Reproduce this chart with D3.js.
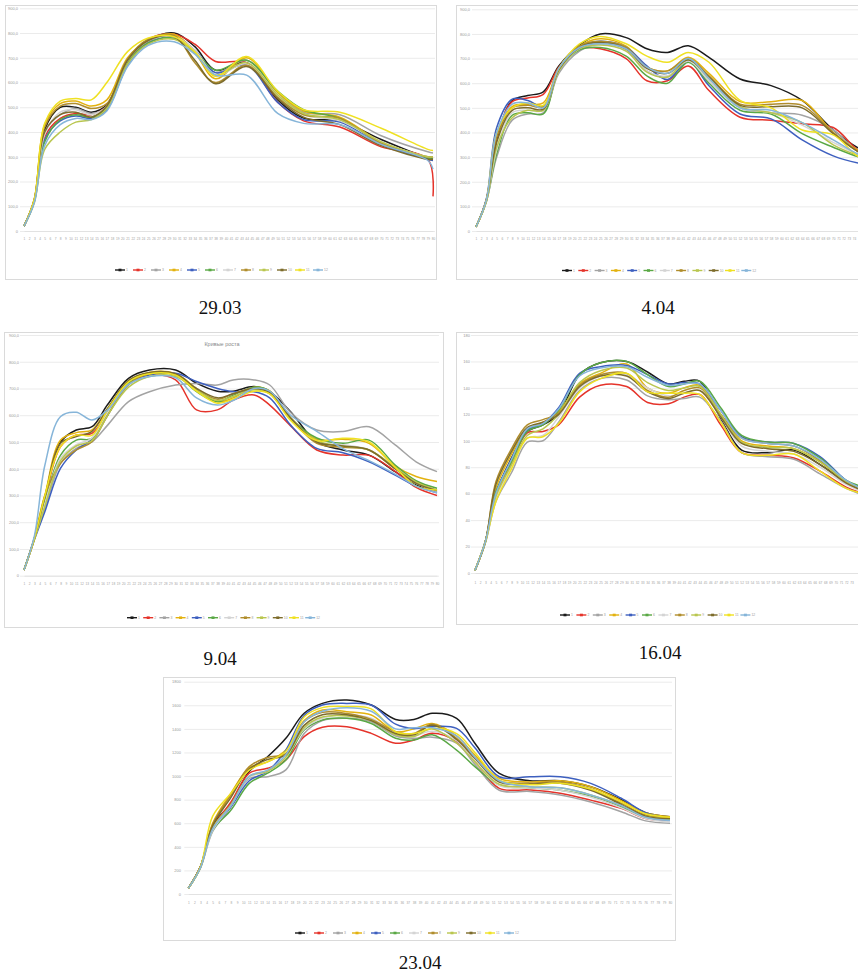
<!DOCTYPE html>
<html lang="ru">
<head>
<meta charset="UTF-8">
<title>Кривые роста</title>
<script src="https://d3js.org/d3.v7.min.js"></script>
<style>
  body { margin: 0; background: #fff; }
  svg { display: block; }
</style>
</head>
<body>
<script>
    // series colours and legend labels (same for every date)
    const colors = ["#1b1b1b", "#e5332a", "#a3a3a3", "#e3b20f", "#3d5fbf", "#5aa845",
        "#d4d4d4", "#b08d2c", "#b9c64f", "#7d6c2b", "#efe122", "#86b5d9"];
    const seriesNames = ["1", "2", "3", "4", "5", "6", "7", "8", "9", "10", "11", "12"];
    const categories = d3.range(1, 81);

    // 29.03
    const knots1 = [1, 3, 5, 8, 11, 14, 17, 21, 25, 30, 34, 38, 44, 50, 55, 62, 70, 79, 80];
    const vals1 = [
        [20, 125, 410, 500, 500, 480, 510, 690, 770, 800, 745, 650, 680, 530, 456, 445, 370, 295, 290],
        [20, 125, 380, 455, 475, 470, 505, 680, 775, 795, 755, 685, 680, 520, 445, 420, 340, 290, 140],
        [20, 125, 400, 470, 495, 475, 500, 680, 765, 790, 730, 640, 690, 560, 480, 470, 385, 320, 315],
        [20, 130, 430, 515, 525, 505, 530, 700, 770, 795, 720, 615, 700, 560, 485, 460, 360, 300, 300],
        [20, 120, 370, 445, 465, 455, 490, 670, 760, 780, 730, 640, 670, 520, 450, 440, 350, 290, 285],
        [20, 120, 360, 450, 470, 460, 500, 680, 760, 780, 725, 650, 690, 565, 490, 455, 355, 295, 290],
        [20, 125, 390, 480, 490, 470, 505, 690, 770, 785, 730, 630, 675, 545, 470, 445, 360, 300, 300],
        [20, 130, 420, 505, 515, 495, 515, 695, 775, 790, 680, 600, 670, 540, 470, 455, 355, 300, 300],
        [20, 115, 330, 400, 440, 450, 495, 675, 755, 775, 720, 630, 680, 550, 475, 450, 360, 300, 300],
        [20, 125, 400, 470, 480, 460, 505, 690, 770, 785, 690, 595, 665, 535, 460, 430, 345, 290, 290],
        [20, 130, 435, 525, 535, 530, 600, 725, 780, 785, 725, 625, 705, 565, 490, 480, 415, 330, 325],
        [20, 115, 345, 430, 455, 450, 485, 665, 750, 765, 715, 630, 630, 475, 435, 430, 350, 285, 250]
    ];

    // 4.04
    const knots2 = [1, 3, 5, 8, 11, 14, 17, 21, 25, 30, 34, 38, 42, 46, 52, 58, 64, 70, 75, 80];
    const vals2 = [
        [17, 125, 370, 530, 550, 565, 670, 755, 800, 785, 740, 725, 752, 705, 617, 590, 530, 410, 335, 290],
        [17, 125, 380, 525, 540, 555, 665, 740, 740, 700, 610, 610, 670, 570, 462, 450, 435, 420, 325, 285],
        [17, 120, 300, 450, 475, 480, 640, 730, 760, 735, 650, 625, 690, 610, 500, 480, 470, 410, 320, 280],
        [17, 125, 390, 505, 515, 520, 660, 750, 780, 750, 665, 650, 705, 640, 525, 525, 530, 400, 325, 285],
        [17, 130, 420, 535, 530, 505, 660, 745, 770, 745, 670, 615, 690, 590, 475, 455, 370, 305, 275, 260],
        [17, 120, 315, 470, 480, 475, 650, 735, 745, 710, 630, 600, 685, 600, 490, 475, 395, 340, 300, 275],
        [17, 120, 330, 480, 490, 490, 650, 740, 760, 730, 650, 630, 690, 610, 500, 480, 430, 360, 310, 280],
        [17, 125, 380, 500, 510, 505, 660, 750, 770, 745, 665, 650, 700, 630, 515, 515, 510, 400, 320, 280],
        [17, 120, 340, 460, 490, 490, 650, 740, 755, 730, 645, 625, 695, 620, 505, 480, 440, 350, 305, 275],
        [17, 125, 360, 490, 500, 495, 655, 745, 765, 740, 660, 640, 695, 625, 510, 505, 500, 395, 320, 280],
        [17, 125, 400, 500, 520, 510, 660, 760, 790, 760, 710, 685, 725, 685, 530, 500, 410, 390, 300, 270],
        [17, 125, 400, 515, 520, 500, 660, 745, 760, 740, 665, 640, 700, 620, 500, 490, 440, 370, 310, 280]
    ];

    // 9.04
    const knots3 = [1, 3, 5, 8, 11, 14, 17, 21, 25, 30, 34, 38, 41, 45, 48, 52, 57, 62, 67, 72, 76, 80];
    const vals3 = [
        [21, 140, 290, 500, 545, 557, 640, 738, 769, 769, 720, 690, 690, 707, 688, 613, 500, 470, 451, 389, 339, 314],
        [21, 140, 290, 483, 526, 532, 610, 720, 750, 732, 620, 620, 657, 676, 638, 560, 470, 451, 450, 390, 330, 300],
        [21, 140, 250, 420, 476, 500, 563, 651, 688, 713, 719, 713, 732, 732, 713, 610, 545, 539, 557, 489, 426, 389],
        [21, 140, 300, 507, 535, 545, 625, 725, 760, 755, 700, 650, 665, 705, 690, 590, 510, 510, 495, 410, 371, 352],
        [21, 135, 240, 402, 470, 510, 600, 715, 750, 757, 726, 700, 688, 688, 665, 563, 476, 460, 426, 376, 335, 310],
        [21, 140, 280, 451, 507, 513, 610, 720, 755, 750, 688, 651, 675, 705, 690, 590, 515, 495, 507, 414, 355, 327],
        [21, 140, 270, 440, 490, 515, 610, 715, 745, 745, 700, 660, 680, 700, 680, 590, 500, 490, 470, 400, 345, 315],
        [21, 140, 300, 420, 470, 501, 600, 715, 755, 750, 695, 660, 680, 700, 690, 590, 495, 480, 470, 400, 350, 320],
        [21, 135, 260, 430, 485, 505, 600, 705, 745, 745, 695, 655, 670, 695, 680, 585, 505, 485, 470, 405, 350, 320],
        [21, 140, 295, 495, 520, 540, 625, 730, 760, 755, 700, 665, 680, 700, 685, 590, 500, 485, 470, 400, 345, 318],
        [21, 140, 300, 483, 526, 525, 620, 725, 755, 750, 690, 645, 660, 690, 680, 580, 505, 514, 500, 405, 335, 320],
        [21, 150, 414, 595, 611, 582, 620, 715, 745, 740, 665, 638, 655, 700, 690, 600, 540, 475, 430, 380, 335, 310]
    ];

    // 16.04
    const knots4 = [1, 3, 5, 8, 11, 14, 17, 21, 25, 30, 34, 38, 41, 44, 48, 52, 57, 62, 67, 72, 76, 80];
    const vals4 = [
        [2, 24, 60, 87, 107, 112, 120, 150, 159, 160, 152, 143, 145, 145, 117, 93, 91, 93, 82, 69, 61, 55],
        [2, 24, 58, 83, 106, 107, 112, 133, 142, 141, 129, 128, 133, 135, 112, 91, 89, 87, 77, 65, 59, 54],
        [2, 23, 54, 76, 99, 100, 114, 138, 147, 146, 134, 131, 132, 133, 115, 91, 88, 86, 75, 64, 58, 53],
        [2, 24, 64, 90, 109, 114, 122, 143, 151, 158, 140, 136, 140, 142, 120, 100, 96, 94, 84, 69, 61, 55],
        [2, 24, 61, 86, 108, 113, 125, 151, 156, 157, 150, 143, 144, 143, 123, 103, 99, 98, 88, 70, 62, 56],
        [2, 24, 61, 84, 107, 112, 123, 150, 159, 160, 150, 141, 143, 145, 125, 104, 99, 98, 87, 70, 64, 58],
        [2, 23, 57, 80, 102, 104, 118, 140, 149, 150, 140, 134, 136, 138, 118, 96, 92, 90, 80, 67, 60, 54],
        [2, 24, 69, 94, 112, 116, 121, 142, 150, 151, 138, 133, 138, 140, 120, 102, 98, 96, 85, 69, 62, 56],
        [2, 23, 58, 82, 104, 109, 120, 144, 153, 155, 144, 138, 140, 141, 120, 99, 95, 94, 84, 69, 61, 55],
        [2, 24, 67, 92, 110, 114, 120, 141, 149, 149, 137, 132, 136, 138, 118, 98, 94, 92, 82, 68, 61, 55],
        [2, 24, 54, 79, 102, 103, 113, 137, 147, 151, 137, 136, 136, 135, 114, 91, 89, 90, 77, 64, 59, 53],
        [2, 24, 60, 86, 109, 113, 124, 149, 155, 156, 148, 142, 143, 143, 123, 102, 98, 96, 86, 70, 62, 56]
    ];

    // 23.04
    const knots5 = [1, 3, 5, 8, 11, 14, 17, 20, 23, 27, 31, 35, 38, 41, 45, 48, 52, 57, 62, 67, 72, 76, 80];
    const vals5 = [
        [48, 232, 580, 768, 1040, 1164, 1320, 1532, 1616, 1644, 1602, 1480, 1480, 1532, 1490, 1278, 1022, 960, 960, 910, 800, 690, 656],
        [48, 232, 560, 780, 1024, 1066, 1136, 1334, 1414, 1418, 1362, 1278, 1306, 1362, 1292, 1122, 896, 882, 854, 796, 726, 640, 628],
        [48, 224, 530, 740, 980, 994, 1052, 1360, 1470, 1490, 1460, 1340, 1320, 1330, 1280, 1100, 880, 870, 840, 780, 698, 620, 600],
        [48, 232, 600, 854, 1070, 1120, 1220, 1470, 1560, 1546, 1518, 1376, 1400, 1446, 1340, 1178, 980, 950, 960, 910, 792, 690, 656],
        [48, 232, 550, 740, 960, 1040, 1220, 1514, 1602, 1616, 1602, 1440, 1404, 1420, 1404, 1240, 994, 994, 994, 938, 812, 690, 640],
        [48, 224, 540, 712, 938, 1024, 1136, 1390, 1476, 1490, 1446, 1320, 1306, 1350, 1220, 1080, 924, 900, 880, 830, 740, 650, 630],
        [48, 224, 540, 750, 990, 1040, 1160, 1400, 1490, 1520, 1490, 1360, 1340, 1380, 1300, 1120, 920, 900, 880, 820, 730, 640, 610],
        [48, 232, 590, 840, 1080, 1158, 1190, 1460, 1540, 1530, 1480, 1376, 1360, 1440, 1320, 1160, 960, 940, 950, 890, 770, 670, 650],
        [48, 224, 560, 760, 1000, 1040, 1160, 1410, 1500, 1510, 1470, 1350, 1336, 1400, 1280, 1120, 930, 910, 900, 840, 750, 660, 636],
        [48, 232, 580, 820, 1060, 1140, 1180, 1430, 1520, 1520, 1470, 1360, 1350, 1430, 1310, 1150, 950, 930, 940, 880, 760, 660, 640],
        [48, 232, 660, 854, 1050, 1120, 1210, 1500, 1580, 1590, 1570, 1376, 1360, 1404, 1360, 1200, 966, 926, 940, 890, 780, 680, 650],
        [48, 224, 550, 750, 1000, 1050, 1180, 1460, 1550, 1580, 1550, 1400, 1410, 1410, 1340, 1160, 960, 910, 900, 840, 750, 650, 624]
    ];

    const captions = ["29.03", "4.04", "9.04", "16.04", "23.04"];
    const yMax = [900, 900, 900, 180, 1800];
    const yStep = [100, 100, 100, 20, 200];

    // where each chart sits on the page
    const panels = [
        { knots: knots1, vals: vals1, frame: [5, 5, 431, 274], x: [24, 433], y: [231, 8.3], labX: 18, catY: 238, leg: [115, 270, 18], cap: [220, 314] },
        { knots: knots2, vals: vals2, frame: [456, 5, 431, 274], x: [476, 885], y: [231, 9.3], labX: 470, catY: 238, leg: [562, 270.5, 16.3], cap: [658, 314] },
        { knots: knots3, vals: vals3, frame: [4, 332, 439, 295], x: [24, 437], y: [575.7, 335], labX: 19, catY: 583, leg: [127, 617.7, 16.2], cap: [220, 665], title: "Кривые роста" },
        { knots: knots4, vals: vals4, frame: [456, 332, 431, 292], x: [475, 888], y: [573, 335], labX: 470, catY: 582, leg: [560, 615, 16.4], cap: [660, 659] },
        { knots: knots5, vals: vals5, frame: [163, 677, 512, 263], x: [188.3, 670], y: [894, 681.7], labX: 181, catY: 902, leg: [295, 933, 19], cap: [420, 969] }
    ];

    const W = 858, H = 976;
    const svg = d3.select("body").append("svg")
        .attr("width", W)
        .attr("height", H);

    svg.append("rect").attr("width", W).attr("height", H).attr("fill", "#fff");

    panels.forEach((p, pi) => {
        const g = svg.append("g");

        g.append("rect")
            .attr("x", p.frame[0] + 0.5).attr("y", p.frame[1] + 0.5)
            .attr("width", p.frame[2]).attr("height", p.frame[3])
            .attr("fill", "#fff")
            .attr("stroke", "#dadada");

        const x = d3.scaleLinear().domain([1, 80]).range(p.x);
        const y = d3.scaleLinear().domain([0, yMax[pi]]).range(p.y);
        const ticks = d3.range(0, yMax[pi] + 1, yStep[pi]);

        // gridlines
        g.append("g")
            .attr("transform", `translate(${p.x[0] - 4},0)`)
            .call(d3.axisLeft(y).tickValues(ticks).tickSize(-(p.x[1] - p.x[0] + 6)).tickFormat(""))
            .call(a => a.select(".domain").remove())
            .call(a => a.selectAll("line").attr("stroke", "#ebebeb"));

        // y labels
        const fmt = d => d === 0 ? "0" : (pi < 3 ? d.toFixed(1).replace(".", ",") : String(d));
        g.append("g")
            .attr("transform", `translate(${p.labX},0)`)
            .call(d3.axisLeft(y).tickValues(ticks).tickSize(0).tickPadding(0).tickFormat(fmt))
            .call(a => a.select(".domain").remove())
            .call(a => a.selectAll("text").attr("font-size", 4).attr("fill", "#9a9a9a")
                .attr("font-family", "Liberation Sans, Arial, sans-serif"));

        // category axis (only the labels that fit on the page)
        const shown = categories.filter(c => x(c) < W - 4);
        g.append("g")
            .attr("transform", `translate(0,${p.y[0]})`)
            .call(d3.axisBottom(x).tickValues(shown).tickSize(0).tickPadding(p.catY - p.y[0]).tickFormat(d => d))
            .call(a => a.select(".domain").attr("stroke", "#e2e2e2"))
            .call(a => a.selectAll("text").attr("font-size", 3.2).attr("fill", "#a0a0a0")
                .attr("font-family", "Liberation Sans, Arial, sans-serif"));

        const line = d3.line()
            .x((d, i) => x(p.knots[i]))
            .y(d => y(d))
            .curve(d3.curveCatmullRom.alpha(0.5));

        g.selectAll("path.series")
            .data(p.vals)
            .join("path")
            .attr("class", "series")
            .attr("d", line)
            .attr("fill", "none")
            .attr("stroke", (d, i) => colors[i])
            .attr("stroke-width", 1.5)
            .attr("stroke-linejoin", "round");

        if (p.title) {
            g.append("text")
                .attr("x", 222).attr("y", 346)
                .attr("text-anchor", "middle")
                .attr("font-size", 5.5)
                .attr("fill", "#8a8a8a")
                .attr("font-family", "Liberation Sans, Arial, sans-serif")
                .text(p.title);
        }

        // legend
        const leg = g.selectAll("g.leg")
            .data(seriesNames)
            .join("g")
            .attr("class", "leg")
            .attr("transform", (d, i) => `translate(${p.leg[0] + i * p.leg[2]},${p.leg[1]})`);
        leg.append("line")
            .attr("x1", 0).attr("x2", 10)
            .attr("stroke", (d, i) => colors[i])
            .attr("stroke-width", 1.4);
        leg.append("rect")
            .attr("x", 3.5).attr("y", -1.3).attr("width", 3).attr("height", 2.6)
            .attr("fill", (d, i) => colors[i]);
        leg.append("text")
            .attr("x", 11).attr("y", 1.2)
            .attr("font-size", 3.4)
            .attr("fill", "#9a9a9a")
            .attr("font-family", "Liberation Sans, Arial, sans-serif")
            .text(d => d);

        // date under each chart
        svg.append("text")
            .attr("x", p.cap[0]).attr("y", p.cap[1])
            .attr("text-anchor", "middle")
            .attr("font-family", "Liberation Serif, Times New Roman, serif")
            .attr("font-size", 19)
            .attr("fill", "#111")
            .text(captions[pi]);
    });
</script>
</body>
</html>
